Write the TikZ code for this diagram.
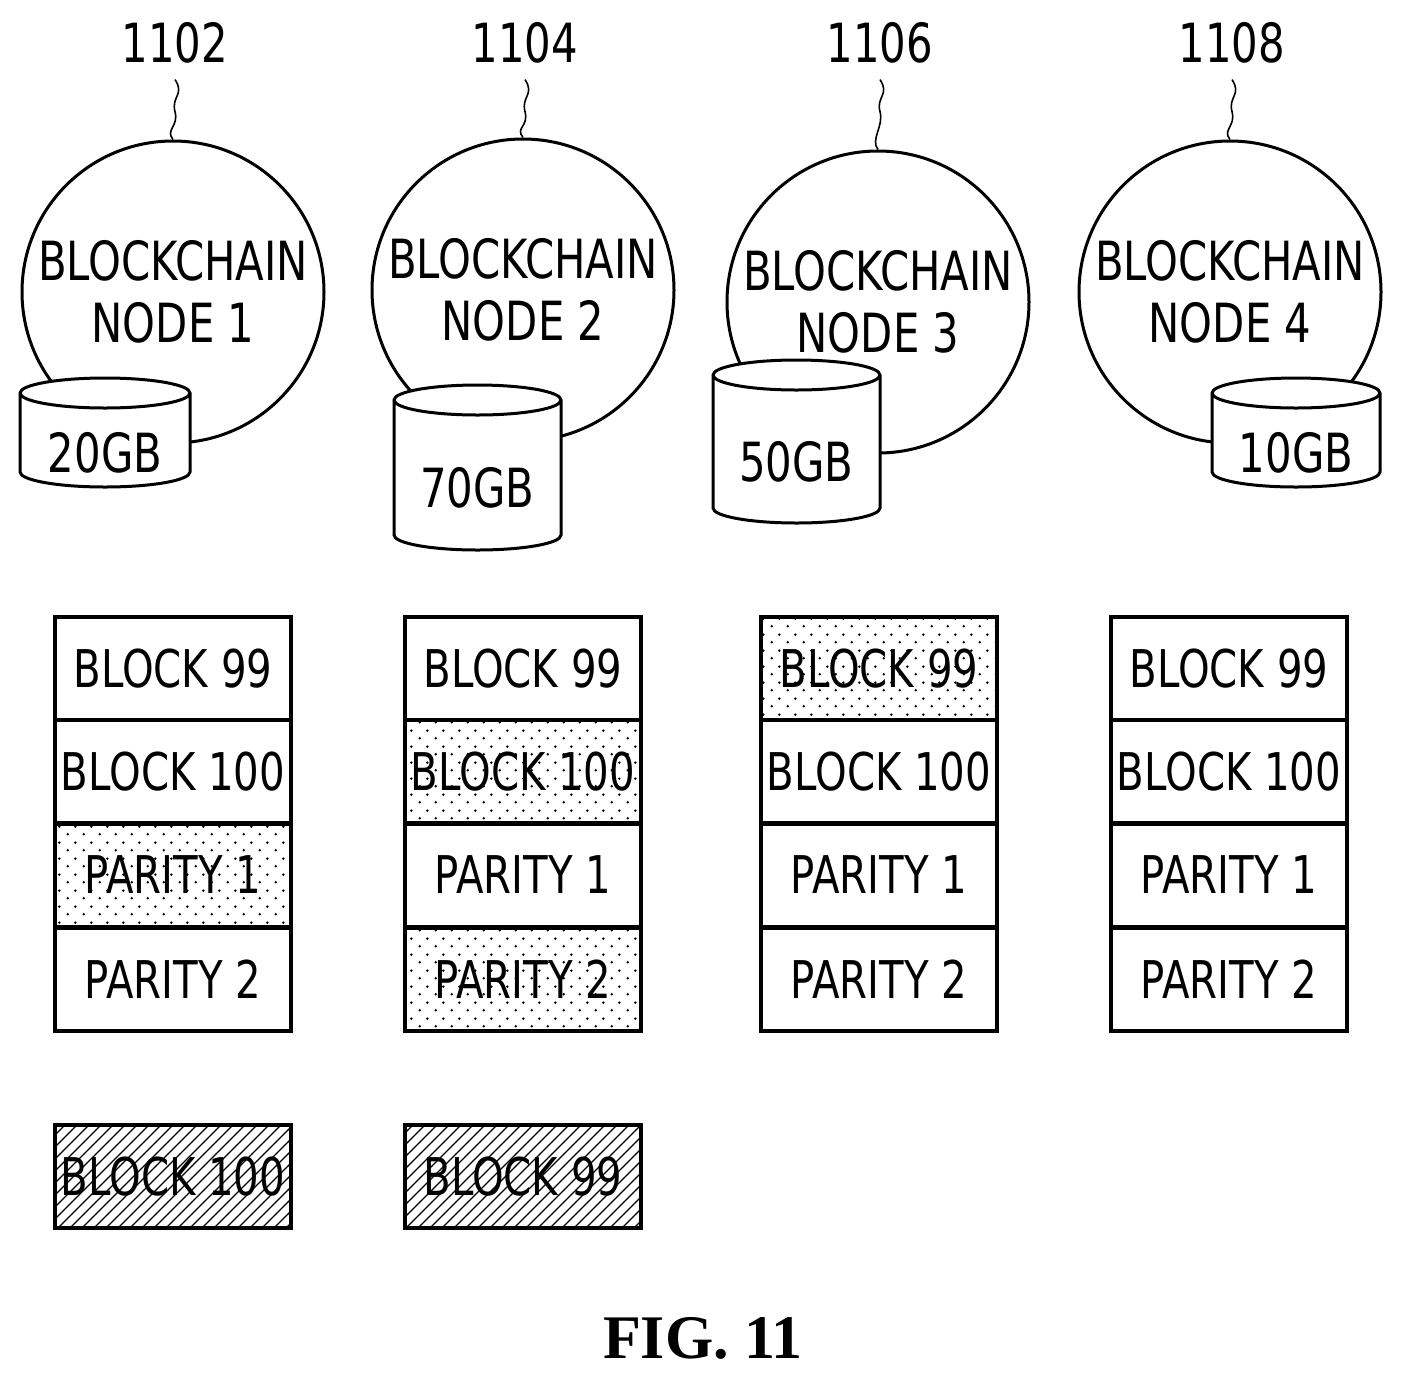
\documentclass[tikz,border=0pt]{standalone}
\usepackage{fontspec}
\setmainfont{DejaVu Sans Condensed}[FakeStretch=0.86]
\newfontfamily\figfont{Liberation Serif}
\usetikzlibrary{patterns,positioning}
\pgfdeclarepatternformonly{sparse dots}{\pgfpointorigin}{\pgfpoint{8pt}{8pt}}{\pgfpoint{8pt}{8pt}}{%
	\pgfpathcircle{\pgfpoint{2pt}{2pt}}{0.7pt}\pgfpathcircle{\pgfpoint{6pt}{6pt}}{0.7pt}\pgfusepath{fill}}
\pgfdeclarepatternformonly{sparse lines}{\pgfpoint{-1pt}{-1pt}}{\pgfpoint{7pt}{7pt}}{\pgfpoint{6pt}{6pt}}{%
	\pgfsetlinewidth{0.7pt}\pgfpathmoveto{\pgfpoint{0pt}{0pt}}\pgfpathlineto{\pgfpoint{6.1pt}{6.1pt}}\pgfusepath{stroke}}

\begin{document}
\begin{tikzpicture}[x=0.5pt, y=-0.5pt, line width=1.5pt,
	lbl/.style={font=\fontsize{27}{31}\selectfont},
	blk/.style={draw, line width=2pt, minimum width=118pt, minimum height=51.5pt, inner sep=0pt, font=\fontsize{26}{28}\selectfont},
	dotted blk/.style={blk, postaction={pattern=sparse dots}},
	hatched blk/.style={blk, postaction={pattern=sparse lines}}]
	\useasboundingbox (0,0) rectangle (1403,1382);
	% blockchain nodes
	\foreach \i/\x/\y/\ref in {1/173/292/1102, 2/523/290/1104, 3/878/302/1106, 4/1230/292/1108} {
		\node[draw, circle, minimum size=151pt, align=center, lbl, inner sep=0pt] (bc\i) at (\x,\y) {BLOCKCHAIN\\NODE \i};
		\node[lbl] (ref\i) at (\x+2,43) {\ref};
		\draw[line width=0.8pt] (ref\i.south) ++(0,8) coordinate (s\i) .. controls +(10,15) and +(-4,-15) .. ++(0,32) .. controls +(4,15) and +(-8,-10) .. (bc\i.north);
	}
	% storage
	\foreach \i/\xa/\xb/\ya/\yb/\cap in {1/20/190/393/472/20GB, 2/394/561/400/535/70GB, 3/713/880/375/508/50GB, 4/1212/1380/393/472/10GB} {
		\filldraw[fill=white] (\xa,\ya) -- (\xa,\yb) arc[start angle=180, end angle=0, x radius={(\xb-\xa)/2}, y radius=15] -- (\xb,\ya) arc[start angle=0, end angle=-180, x radius={(\xb-\xa)/2}, y radius=15] -- cycle;
		\draw (\xa,\ya) arc[start angle=180, end angle=0, x radius={(\xb-\xa)/2}, y radius=15];
		\node[lbl] (db\i) at ({(\xa+\xb)/2},{(\ya+\yb)/2+20}) {\cap};
	}
	% block stacks
	\foreach \c/\x/\sa/\sb/\sc/\sd in {1/173/blk/blk/dotted blk/blk, 2/523/blk/dotted blk/blk/dotted blk, 3/879/dotted blk/blk/blk/blk, 4/1229/blk/blk/blk/blk} {
		\node[\sa] (b\c a) at (\x,668.5) {BLOCK 99};
		\node[\sb] (b\c b) at (\x,771.5) {BLOCK 100};
		\node[\sc] (b\c c) at (\x,875) {PARITY 1};
		\node[\sd] (b\c d) at (\x,979) {PARITY 2};
	}
	\node[hatched blk] (r1) at (173,1176.5) {BLOCK 100};
	\node[hatched blk] (r2) at (523,1176.5) {BLOCK 99};
	\node[font=\figfont\bfseries\fontsize{31}{33}\selectfont] (fig) at (703,1338) {FIG. 11};
\end{tikzpicture}
\end{document}
